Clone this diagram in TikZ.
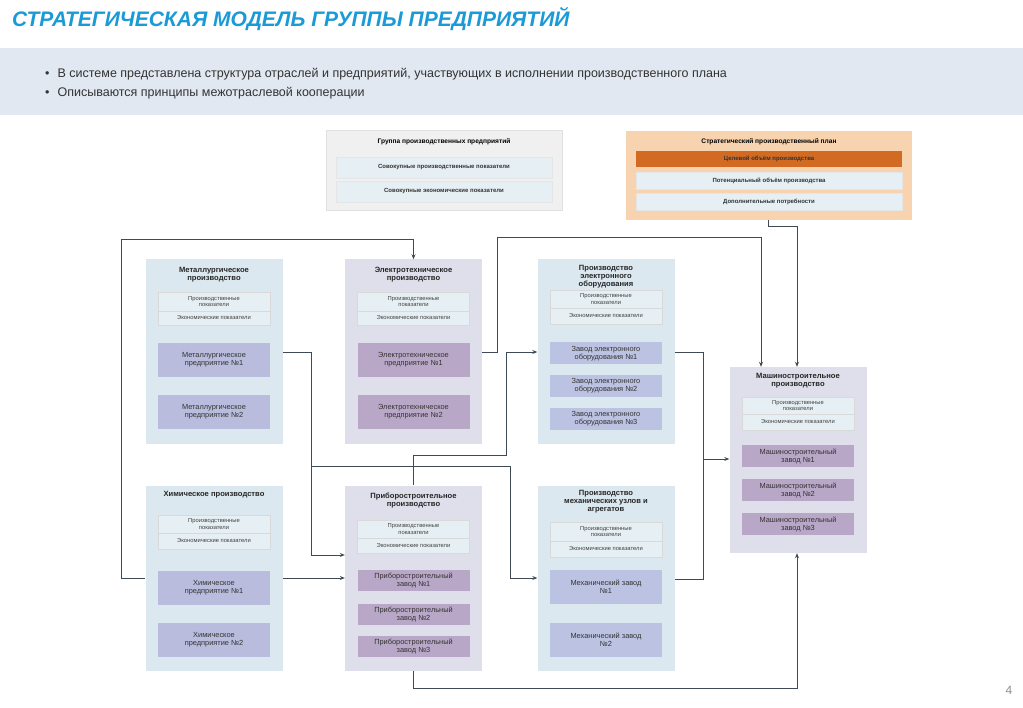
\documentclass[tikz,border=0pt]{standalone}
\usepackage{fontspec}
\setmainfont{Liberation Sans}
\usetikzlibrary{arrows.meta}
\definecolor{ttl}{HTML}{1A9AD6}
\definecolor{band}{HTML}{E1E8F1}
\definecolor{pblue}{HTML}{DCE8EF}
\definecolor{plav}{HTML}{DEDFEB}
\definecolor{ibl}{HTML}{B9BCDD}
\definecolor{imv}{HTML}{B9A7C7}
\definecolor{iel}{HTML}{BCC3E2}
\definecolor{sub}{HTML}{E6EFF3}
\definecolor{ln}{HTML}{3E4A56}
\definecolor{orng}{HTML}{F8D3B0}
\definecolor{dorng}{HTML}{D26A22}
\begin{document}
\begin{tikzpicture}[x=1pt,y=-1pt,
  panel/.style={draw=none,inner sep=0pt,minimum width=137pt,minimum height=185pt},
  ptitle/.style={font=\fontsize{7.6}{8}\selectfont\bfseries,align=center,inner sep=0pt,text=black!85},
  subc/.style={fill=sub,draw=black!15,line width=0.3pt,inner sep=0pt,minimum width=112pt,font=\fontsize{5.8}{6.2}\selectfont,align=center,text=black!75},
  item/.style={inner sep=0pt,minimum width=112pt,font=\fontsize{7.4}{8}\selectfont,align=center,text=black!80},
  topitem/.style={fill=sub,draw=black!10,inner sep=0pt,font=\fontsize{6}{7}\selectfont\bfseries,text=black!80},
  con/.style={draw=ln,line width=0.9pt},
  arr/.style={con,-{Stealth[length=5pt,width=4pt]}}]
\useasboundingbox (0,0) rectangle (1023,708);
\fill[white] (0,0) rectangle (1023,708);
% header
\node[anchor=west,inner sep=0pt,text=ttl,font=\fontsize{21}{24}\selectfont\bfseries\itshape] (T) at (12,19) {СТРАТЕГИЧЕСКАЯ МОДЕЛЬ ГРУППЫ ПРЕДПРИЯТИЙ};
\fill[band] (0,48) rectangle (1023,115);
\node[anchor=west,inner sep=0pt,font=\fontsize{12.5}{14}\selectfont,text=black!80] (b1) at (45,74) {•\hspace{8pt}В системе представлена структура отраслей и предприятий, участвующих в исполнении производственного плана};
\node[anchor=west,inner sep=0pt,font=\fontsize{12.5}{14}\selectfont,text=black!80] (b2) at (45,93) {•\hspace{8pt}Описываются принципы межотраслевой кооперации};
\node[text=black!45,font=\fontsize{12}{14}\selectfont,inner sep=0pt] (pg) at (1009,690) {4};
% top boxes
\node[fill=black!6,draw=black!12,inner sep=0pt,minimum width=236pt,minimum height=80pt] (G) at (444,170) {};
\node[font=\fontsize{6.6}{7}\selectfont\bfseries,inner sep=0pt] (Gt) at (444,142) {Группа производственных предприятий};
\node[topitem,minimum width=216pt,minimum height=21pt] (G1) at (444,167.5) {Совокупные производственные показатели};
\node[topitem,minimum width=216pt,minimum height=21pt] (G2) at (444,191.5) {Совокупные экономические показатели};
\node[fill=orng,inner sep=0pt,minimum width=286pt,minimum height=89pt] (L) at (769,175.5) {};
\node[font=\fontsize{6.6}{7}\selectfont\bfseries,inner sep=0pt] (Lt) at (769,142) {Стратегический производственный план};
\node[topitem,fill=dorng,draw=none,minimum width=266pt,minimum height=16pt] (L1) at (769,159) {Целевой объём производства};
\node[topitem,minimum width=266pt,minimum height=17pt] (L2) at (769,180.5) {Потенциальный объём производства};
\node[topitem,minimum width=266pt,minimum height=17pt] (L3) at (769,201.5) {Дополнительные потребности};
% panels
\node[panel,fill=pblue] (M) at (214,352) {};
\node[panel,fill=plav] (E) at (413.5,352) {};
\node[panel,fill=pblue] (N) at (606,352) {};
\node[panel,fill=pblue] (C) at (214,578) {};
\node[panel,fill=plav] (P) at (413.5,578) {};
\node[panel,fill=pblue] (K) at (606,578) {};
\node[panel,fill=plav,minimum height=186pt] (S) at (798,460) {};
% titles
\node[ptitle] (Mt) at (214,275) {Металлургическое\\производство};
\node[ptitle] (Et) at (413.5,275) {Электротехническое\\производство};
\node[ptitle] (Nt) at (606,277) {Производство\\электронного\\оборудования};
\node[ptitle] (Ct) at (214,495) {Химическое производство};
\node[ptitle] (Pt) at (413.5,501) {Приборостроительное\\производство};
\node[ptitle] (Kt) at (606,502) {Производство\\механических узлов и\\агрегатов};
\node[ptitle] (St) at (798,381) {Машиностроительное\\производство};
% sub cells
\foreach \n/\x/\a/\b/\c in {M/214/292/311/325, E/413.5/292/311/325, N/606/290/308/324, C/214/515/533/549, P/413.5/520/538/553, K/606/522/541/557, S/798/397/414/430}{
  \node[subc,minimum height=\b-\a] (\n p) at (\x,{(\a+\b)/2}) {Производственные\\показатели};
  \node[subc,minimum height=\c-\b] (\n e) at (\x,{(\b+\c)/2}) {Экономические показатели};
}
% items
\node[item,fill=ibl,minimum height=34pt] (M1) at (214,360) {Металлургическое\\предприятие №1};
\node[item,fill=ibl,minimum height=34pt] (M2) at (214,412) {Металлургическое\\предприятие №2};
\node[item,fill=imv,minimum height=34pt] (E1) at (413.5,360) {Электротехническое\\предприятие №1};
\node[item,fill=imv,minimum height=34pt] (E2) at (413.5,412) {Электротехническое\\предприятие №2};
\node[item,fill=iel,minimum height=22pt] (N1) at (606,353.5) {Завод электронного\\оборудования №1};
\node[item,fill=iel,minimum height=22pt] (N2) at (606,386) {Завод электронного\\оборудования №2};
\node[item,fill=iel,minimum height=22pt] (N3) at (606,419) {Завод электронного\\оборудования №3};
\node[item,fill=ibl,minimum height=34pt] (C1) at (214,587.5) {Химическое\\предприятие №1};
\node[item,fill=ibl,minimum height=34pt] (C2) at (214,639.5) {Химическое\\предприятие №2};
\node[item,fill=imv,minimum height=21pt] (P1) at (413.5,580.5) {Приборостроительный\\завод №1};
\node[item,fill=imv,minimum height=21pt] (P2) at (413.5,614.5) {Приборостроительный\\завод №2};
\node[item,fill=imv,minimum height=21pt] (P3) at (413.5,646.5) {Приборостроительный\\завод №3};
\node[item,fill=iel,minimum height=34pt] (K1) at (606,587) {Механический завод\\№1};
\node[item,fill=iel,minimum height=34pt] (K2) at (606,640) {Механический завод\\№2};
\node[item,fill=imv,minimum height=22pt] (S1) at (798,456) {Машиностроительный\\завод №1};
\node[item,fill=imv,minimum height=22pt] (S2) at (798,490) {Машиностроительный\\завод №2};
\node[item,fill=imv,minimum height=22pt] (S3) at (798,524) {Машиностроительный\\завод №3};
% connectors
\draw[arr] (C.west |- 0,578) -| (121,239) -| (E.north);
\draw[arr] (M.east |- 0,352) -| (311,555) -- (P.west |- 0,555);
\draw[arr] (311,466) -| (510,578) -- (K.west |- 0,578);
\draw[arr] (C.east |- 0,578) -- (P.west |- 0,578);
\draw[arr] (E.east |- 0,352) -| (497,237) -| (S.north -| 761,0);
\draw[arr] (L.south -| 768,0) |- (797,226) -- (S.north -| 797,0);
\draw[arr] (P.north) |- (506,455) |- (N.west |- 0,352);
\draw[con] (N.east |- 0,352) -| (703,579) -- (K.east |- 0,579);
\draw[arr] (703,459) -- (S.west |- 0,459);
\draw[arr] (P.south) |- (797,688) -- (S.south -| 797,0);
\end{tikzpicture}
\end{document}
